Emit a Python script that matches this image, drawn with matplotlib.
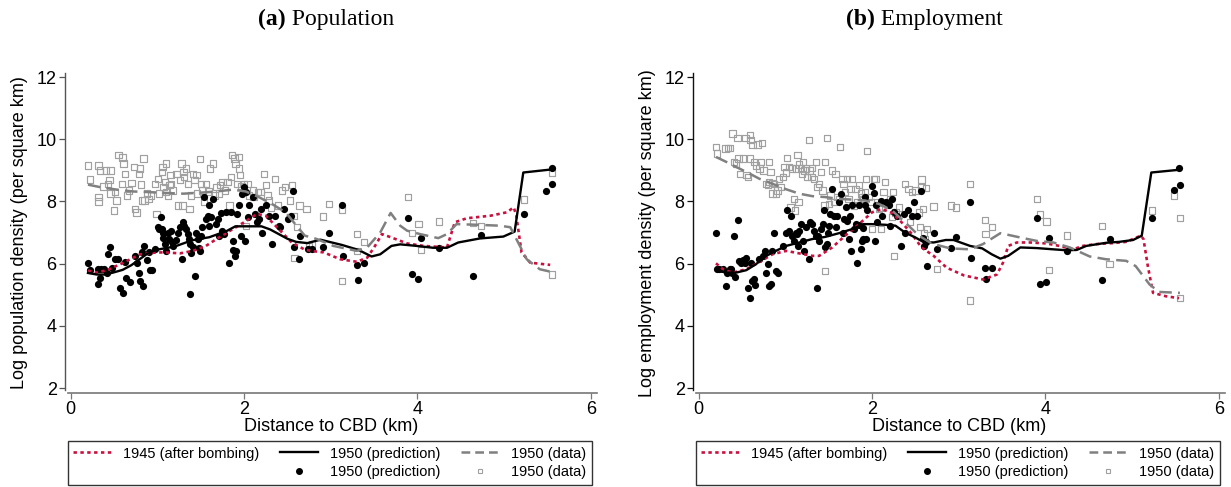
import matplotlib
matplotlib.use("Agg")
import matplotlib.pyplot as plt
from matplotlib.lines import Line2D
from matplotlib.offsetbox import TextArea, HPacker, AnchoredOffsetbox

plt.rcParams['font.family'] = ['Liberation Sans', 'DejaVu Sans']

# ---------------- data: (a) Population ----------------
pop_pred_pts = [
    (0.20, 6.03), (0.22, 5.79), (0.32, 5.84), (0.35, 5.84), (0.32, 5.33), (0.34, 5.55), (0.38, 5.82),
    (0.42, 5.71), (0.43, 6.30), (0.45, 6.52), (0.48, 5.87), (0.51, 6.14), (0.55, 6.16), (0.57, 5.22),
    (0.60, 5.06), (0.63, 6.05), (0.64, 5.55), (0.69, 5.41), (0.74, 6.25), (0.76, 6.01), (0.79, 5.71),
    (0.80, 5.44), (0.82, 6.36), (0.84, 5.28), (0.85, 6.57), (0.88, 6.11), (0.90, 6.36), (0.92, 5.79),
    (0.94, 5.79), (0.97, 6.46), (1.01, 7.17), (1.02, 7.11), (1.04, 7.49), (1.05, 7.11), (1.07, 7.00),
    (1.06, 6.84), (1.09, 6.63), (1.10, 6.41), (1.12, 7.00), (1.14, 6.79), (1.16, 7.06), (1.17, 6.68),
    (1.18, 6.57), (1.22, 6.77), (1.24, 7.00), (1.26, 7.17), (1.28, 6.16), (1.30, 7.33), (1.31, 7.22),
    (1.33, 7.11), (1.35, 6.95), (1.37, 6.79), (1.38, 6.63), (1.38, 5.01), (1.39, 6.33), (1.41, 6.52),
    (1.43, 5.60), (1.45, 7.00), (1.47, 6.79), (1.48, 6.49), (1.49, 6.41), (1.50, 6.90), (1.52, 7.17),
    (1.54, 8.14), (1.56, 7.44), (1.58, 7.54), (1.59, 7.22), (1.60, 7.87), (1.62, 7.49), (1.64, 8.08),
    (1.68, 7.27), (1.70, 7.44), (1.71, 6.90), (1.73, 7.63), (1.75, 7.06), (1.77, 6.95), (1.79, 7.65),
    (1.83, 6.01), (1.85, 7.65), (1.87, 6.73), (1.87, 6.44), (1.89, 6.25), (1.91, 6.41), (1.92, 7.60),
    (1.94, 7.87), (1.96, 6.90), (1.98, 8.25), (2.00, 8.46), (2.01, 6.73), (2.02, 8.30), (2.04, 7.49),
    (2.06, 7.87), (2.10, 8.14), (2.13, 7.60), (2.15, 7.33), (2.17, 7.44), (2.19, 7.76), (2.21, 7.00),
    (2.25, 7.87), (2.29, 7.54), (2.32, 6.63), (2.36, 7.54), (2.40, 7.22), (2.42, 7.17), (2.46, 7.76),
    (2.51, 7.44), (2.54, 7.54), (2.56, 8.35), (2.58, 6.52), (2.63, 6.14), (2.65, 6.90), (2.74, 6.46),
    (2.78, 6.46), (2.91, 6.52), (2.98, 7.00), (3.13, 7.89), (3.14, 6.25), (3.30, 5.95), (3.31, 5.47),
    (3.38, 6.03), (3.89, 7.46), (3.94, 5.68), (4.01, 5.49), (4.04, 6.84), (4.25, 6.49), (4.64, 5.60),
    (4.73, 6.92), (5.23, 7.60), (5.48, 8.35), (5.55, 9.06), (5.55, 8.57),
]
pop_data_pts = [
    (0.20, 9.16), (0.22, 8.70), (0.32, 9.16), (0.32, 8.14), (0.32, 8.00), (0.34, 9.00), (0.38, 8.48),
    (0.41, 9.00), (0.43, 8.57), (0.46, 9.00), (0.45, 8.68), (0.46, 8.25), (0.50, 7.71), (0.51, 8.30),
    (0.53, 8.03), (0.55, 9.49), (0.59, 8.57), (0.60, 9.41), (0.61, 9.22), (0.63, 8.89), (0.65, 8.19),
    (0.67, 8.35), (0.70, 8.60), (0.73, 9.11), (0.74, 7.76), (0.76, 7.65), (0.79, 8.89), (0.80, 9.06),
    (0.81, 8.54), (0.82, 8.03), (0.84, 9.38), (0.85, 8.03), (0.88, 8.25), (0.90, 8.08), (0.93, 8.19),
    (0.97, 8.57), (0.99, 7.60), (1.01, 8.73), (1.02, 8.25), (1.05, 8.95), (1.06, 9.11), (1.07, 8.46),
    (1.09, 8.62), (1.10, 8.30), (1.10, 9.22), (1.12, 8.19), (1.14, 8.52), (1.15, 8.84), (1.16, 8.57),
    (1.18, 8.35), (1.22, 8.89), (1.24, 7.87), (1.26, 8.68), (1.28, 9.22), (1.29, 7.87), (1.30, 8.95),
    (1.31, 8.79), (1.33, 9.06), (1.35, 8.57), (1.37, 7.76), (1.39, 8.19), (1.41, 8.89), (1.43, 8.68),
    (1.45, 8.84), (1.46, 8.25), (1.49, 9.36), (1.50, 8.57), (1.52, 8.35), (1.54, 7.98), (1.56, 8.57),
    (1.59, 8.32), (1.61, 9.06), (1.64, 9.22), (1.66, 8.19), (1.68, 8.46), (1.71, 8.25), (1.72, 8.52),
    (1.75, 8.62), (1.78, 8.35), (1.81, 8.62), (1.83, 7.87), (1.85, 8.79), (1.86, 9.49), (1.89, 9.38),
    (1.90, 9.22), (1.92, 8.57), (1.94, 9.06), (1.94, 9.43), (1.95, 8.84), (1.97, 8.49), (2.00, 8.57),
    (2.02, 7.22), (2.04, 8.57), (2.06, 8.19), (2.10, 8.35), (2.11, 8.14), (2.16, 8.30), (2.19, 8.30),
    (2.23, 8.89), (2.25, 8.52), (2.27, 8.19), (2.29, 8.03), (2.31, 7.81), (2.36, 8.73), (2.39, 7.87),
    (2.44, 8.35), (2.47, 8.46), (2.53, 8.03), (2.55, 8.52), (2.57, 7.54), (2.58, 6.19), (2.61, 7.17),
    (2.64, 7.87), (2.72, 7.76), (2.75, 6.57), (2.78, 6.63), (2.91, 7.51), (2.98, 7.91), (3.13, 7.74),
    (3.13, 5.44), (3.30, 6.95), (3.38, 6.70), (3.30, 6.41), (3.89, 8.15), (3.94, 6.98), (4.01, 7.27),
    (4.04, 6.44), (4.25, 7.35), (4.64, 7.30), (4.73, 7.22), (5.23, 8.06), (5.55, 8.93), (5.55, 5.65),
]
pop_1945_line = [
    (0.20, 5.78), (0.29, 5.71), (0.42, 5.79), (0.61, 6.03), (0.80, 6.30), (0.99, 6.36), (1.10, 6.36),
    (1.26, 6.33), (1.41, 6.41), (1.56, 6.57), (1.71, 6.84), (1.87, 7.11), (2.00, 7.33), (2.15, 7.60),
    (2.25, 7.54), (2.40, 7.11), (2.55, 6.68), (2.70, 6.45), (2.80, 6.40), (2.92, 6.36), (3.11, 6.14),
    (3.30, 6.06), (3.42, 6.19), (3.51, 6.57), (3.59, 6.95), (3.70, 6.84), (3.88, 6.65), (4.07, 6.57),
    (4.34, 6.52), (4.43, 7.33), (4.57, 7.46), (4.84, 7.54), (5.03, 7.65), (5.11, 7.81), (5.14, 7.54),
    (5.20, 6.36), (5.30, 6.03), (5.53, 5.96),
]
pop_1950_pred_line = [
    (0.20, 5.70), (0.30, 5.65), (0.40, 5.65), (0.50, 5.72), (0.60, 5.80), (0.70, 5.95), (0.80, 6.15),
    (0.90, 6.35), (1.00, 6.45), (1.10, 6.50), (1.20, 6.55), (1.30, 6.65), (1.40, 6.75), (1.50, 6.80),
    (1.60, 6.85), (1.70, 6.95), (1.80, 7.05), (1.90, 7.20), (2.00, 7.20), (2.10, 7.20), (2.20, 7.20),
    (2.30, 7.10), (2.40, 6.95), (2.50, 6.80), (2.60, 6.70), (2.73, 6.66), (2.88, 6.77), (3.13, 6.60),
    (3.32, 6.44), (3.47, 6.23), (3.57, 6.30), (3.70, 6.57), (3.80, 6.62), (3.99, 6.57), (4.18, 6.51),
    (4.34, 6.51), (4.47, 6.68), (4.72, 6.81), (4.99, 6.87), (5.12, 7.03), (5.22, 8.93), (5.55, 9.03),
]
pop_1950_data_line = [
    (0.20, 8.54), (0.34, 8.46), (0.53, 8.38), (0.72, 8.32), (0.91, 8.30), (1.10, 8.27), (1.30, 8.25),
    (1.49, 8.28), (1.68, 8.32), (1.87, 8.38), (2.02, 8.32), (2.17, 8.14), (2.32, 7.92), (2.48, 7.65),
    (2.59, 7.27), (2.70, 6.90), (2.84, 6.79), (3.03, 6.57), (3.30, 6.41), (3.42, 6.52), (3.57, 7.00),
    (3.69, 7.63), (3.80, 7.22), (3.88, 7.06), (4.03, 6.95), (4.24, 6.82), (4.34, 6.95), (4.45, 7.27),
    (4.68, 7.25), (4.95, 7.22), (5.07, 7.17), (5.14, 6.79), (5.26, 6.14), (5.41, 5.82), (5.55, 5.73),
]

# ---------------- data: (b) Employment ----------------
emp_pred_pts = [
    (0.20, 6.98), (0.21, 5.84), (0.24, 5.82), (0.28, 5.84), (0.32, 5.28), (0.33, 5.71), (0.36, 5.82),
    (0.37, 5.84), (0.39, 5.71), (0.41, 6.90), (0.42, 5.58), (0.45, 7.40), (0.46, 6.09), (0.49, 6.03),
    (0.51, 6.11), (0.53, 6.03), (0.55, 6.19), (0.57, 5.22), (0.59, 4.90), (0.60, 6.03), (0.62, 5.44),
    (0.64, 5.49), (0.65, 5.30), (0.70, 6.14), (0.74, 6.25), (0.76, 6.41), (0.78, 5.71), (0.80, 5.98),
    (0.81, 5.28), (0.83, 5.36), (0.85, 6.41), (0.87, 7.00), (0.89, 5.76), (0.91, 5.71), (0.97, 6.57),
    (1.01, 7.00), (1.02, 7.71), (1.04, 7.06), (1.06, 7.54), (1.08, 6.90), (1.10, 6.73), (1.12, 7.00),
    (1.14, 6.95), (1.15, 6.57), (1.16, 7.06), (1.18, 7.27), (1.20, 6.73), (1.22, 6.41), (1.24, 7.17),
    (1.27, 6.14), (1.29, 7.33), (1.31, 7.27), (1.33, 7.06), (1.35, 6.90), (1.37, 5.22), (1.38, 6.90),
    (1.39, 6.73), (1.41, 7.11), (1.43, 7.27), (1.45, 7.71), (1.46, 6.52), (1.48, 6.62), (1.49, 7.00),
    (1.50, 7.22), (1.52, 7.60), (1.54, 8.41), (1.56, 7.54), (1.58, 7.17), (1.60, 7.54), (1.62, 7.98),
    (1.64, 8.25), (1.66, 7.00), (1.68, 7.44), (1.70, 7.81), (1.71, 7.38), (1.73, 6.79), (1.75, 7.54),
    (1.76, 6.41), (1.77, 7.87), (1.79, 7.11), (1.81, 7.27), (1.83, 6.01), (1.85, 7.87), (1.85, 7.25),
    (1.87, 6.46), (1.88, 6.73), (1.89, 7.13), (1.90, 6.79), (1.92, 7.87), (1.92, 8.14), (1.93, 6.79),
    (1.94, 7.71), (2.00, 8.49), (2.02, 8.27), (2.03, 6.73), (2.04, 7.87), (2.06, 7.33), (2.10, 8.03),
    (2.12, 7.54), (2.16, 7.98), (2.19, 7.87), (2.21, 7.22), (2.23, 8.08), (2.25, 7.65), (2.29, 7.54),
    (2.33, 6.57), (2.37, 7.60), (2.38, 7.00), (2.42, 7.71), (2.46, 7.54), (2.48, 7.98), (2.52, 7.54),
    (2.57, 8.32), (2.59, 6.84), (2.60, 6.57), (2.63, 5.92), (2.71, 7.00), (2.75, 6.46), (2.62, 6.68),
    (2.91, 6.49), (2.97, 6.86), (3.13, 7.98), (3.14, 6.19), (3.30, 5.87), (3.31, 5.49), (3.38, 5.85),
    (3.90, 7.47), (3.94, 5.33), (4.01, 5.41), (4.04, 6.81), (4.25, 6.41), (4.65, 5.47), (4.74, 6.79),
    (5.23, 7.46), (5.48, 8.38), (5.54, 9.06), (5.55, 8.54),
]
emp_data_pts = [
    (0.20, 9.76), (0.21, 9.54), (0.31, 9.70), (0.34, 9.72), (0.36, 9.72), (0.39, 10.19), (0.41, 9.27),
    (0.43, 9.22), (0.45, 10.05), (0.46, 9.38), (0.48, 8.89), (0.51, 9.38), (0.54, 10.03), (0.55, 8.84),
    (0.57, 8.79), (0.59, 10.14), (0.59, 9.38), (0.60, 9.97), (0.62, 9.81), (0.64, 9.27), (0.66, 9.16),
    (0.68, 9.83), (0.70, 9.06), (0.72, 9.27), (0.73, 9.87), (0.75, 9.00), (0.78, 8.57), (0.80, 8.52),
    (0.81, 8.62), (0.81, 9.27), (0.83, 8.95), (0.85, 8.25), (0.85, 8.60), (0.87, 8.57), (0.89, 8.25),
    (0.91, 8.35), (0.93, 8.73), (0.95, 8.46), (0.97, 8.79), (0.99, 9.11), (1.01, 8.93), (1.02, 9.40),
    (1.04, 9.11), (1.06, 7.81), (1.08, 9.06), (1.10, 8.08), (1.11, 7.71), (1.12, 9.06), (1.14, 9.49),
    (1.15, 7.98), (1.16, 9.19), (1.18, 9.06), (1.19, 8.89), (1.20, 9.27), (1.22, 9.00), (1.24, 9.06),
    (1.25, 8.79), (1.27, 9.97), (1.28, 9.00), (1.30, 8.79), (1.31, 9.08), (1.33, 8.73), (1.35, 9.27),
    (1.37, 8.46), (1.39, 8.57), (1.41, 8.95), (1.43, 8.35), (1.45, 7.87), (1.46, 5.76), (1.46, 9.27),
    (1.48, 10.05), (1.50, 7.92), (1.52, 8.19), (1.54, 9.00), (1.56, 7.98), (1.58, 8.89), (1.60, 8.14),
    (1.62, 8.08), (1.63, 9.76), (1.66, 8.73), (1.67, 8.57), (1.69, 8.30), (1.71, 8.73), (1.73, 8.08),
    (1.75, 8.41), (1.77, 8.73), (1.79, 7.87), (1.81, 8.41), (1.83, 7.98), (1.85, 8.52), (1.87, 8.25),
    (1.89, 8.14), (1.90, 8.08), (1.92, 8.30), (1.93, 8.73), (1.94, 9.62), (1.96, 8.14), (1.98, 7.98),
    (2.00, 7.11), (2.02, 8.73), (2.04, 8.73), (2.06, 7.98), (2.08, 7.76), (2.10, 7.11), (2.11, 7.81),
    (2.13, 8.30), (2.15, 8.62), (2.19, 7.98), (2.21, 8.08), (2.23, 7.49), (2.24, 8.30), (2.25, 6.25),
    (2.27, 7.65), (2.31, 7.81), (2.38, 8.57), (2.42, 8.41), (2.44, 7.33), (2.46, 8.30), (2.50, 8.35),
    (2.54, 7.65), (2.55, 7.17), (2.57, 8.71), (2.57, 8.46), (2.59, 7.76), (2.61, 6.79), (2.63, 7.11),
    (2.71, 7.84), (2.75, 5.82), (2.62, 8.43), (2.60, 6.98), (2.91, 7.87), (2.97, 7.81), (3.13, 8.57),
    (3.13, 4.82), (3.30, 7.41), (3.31, 6.95), (3.38, 7.17), (3.90, 8.08), (3.94, 7.58), (4.01, 7.36),
    (4.04, 5.79), (4.25, 6.90), (4.65, 7.22), (4.74, 5.98), (5.23, 7.71), (5.48, 8.19), (5.55, 7.46),
    (5.55, 4.90),
]
emp_1945_line = [
    (0.20, 6.01), (0.28, 5.82), (0.39, 5.71), (0.55, 5.82), (0.70, 6.05), (0.85, 6.30), (1.01, 6.41),
    (1.16, 6.33), (1.31, 6.25), (1.39, 6.25), (1.54, 6.52), (1.69, 6.90), (1.85, 7.27), (2.00, 7.65),
    (2.11, 7.76), (2.23, 7.63), (2.34, 7.33), (2.46, 6.95), (2.57, 6.52), (2.71, 6.25), (2.86, 5.87),
    (3.06, 5.62), (3.28, 5.49), (3.44, 5.65), (3.51, 6.03), (3.57, 6.57), (3.67, 6.68), (3.82, 6.68),
    (4.01, 6.65), (4.16, 6.57), (4.32, 6.46), (4.43, 6.57), (4.59, 6.63), (4.78, 6.66), (4.93, 6.70),
    (5.10, 6.90), (5.13, 6.79), (5.18, 5.92), (5.24, 5.06), (5.39, 4.95), (5.54, 4.89),
]
emp_1950_pred_line = [
    (0.20, 5.79), (0.32, 5.71), (0.43, 5.71), (0.55, 5.79), (0.66, 5.98), (0.78, 6.25), (0.89, 6.41),
    (1.01, 6.57), (1.16, 6.68), (1.31, 6.79), (1.46, 6.86), (1.62, 6.98), (1.77, 7.11), (1.90, 7.27),
    (2.00, 7.27), (2.15, 7.25), (2.27, 7.22), (2.38, 7.00), (2.50, 6.84), (2.59, 6.70), (2.71, 6.68),
    (2.85, 6.76), (2.94, 6.76), (3.13, 6.57), (3.27, 6.49), (3.38, 6.30), (3.48, 6.16), (3.57, 6.25),
    (3.71, 6.52), (3.90, 6.50), (4.09, 6.46), (4.24, 6.43), (4.36, 6.44), (4.47, 6.57), (4.70, 6.67),
    (4.85, 6.70), (5.01, 6.76), (5.11, 6.90), (5.22, 8.93), (5.55, 9.02),
]
emp_1950_data_line = [
    (0.20, 9.43), (0.32, 9.27), (0.43, 9.11), (0.55, 8.95), (0.70, 8.73), (0.85, 8.57), (1.01, 8.39),
    (1.16, 8.25), (1.31, 8.17), (1.46, 8.14), (1.62, 8.08), (1.77, 8.06), (1.92, 8.03), (2.08, 7.92),
    (2.23, 7.71), (2.38, 7.33), (2.54, 6.90), (2.67, 6.68), (2.71, 6.63), (2.90, 6.49), (3.13, 6.46),
    (3.28, 6.63), (3.48, 6.98), (3.71, 6.84), (3.90, 6.73), (4.09, 6.68), (4.28, 6.52), (4.51, 6.23),
    (4.70, 6.14), (4.93, 6.09), (5.04, 5.92), (5.20, 5.33), (5.31, 5.09), (5.55, 5.06),
]

titles = [("(a)", "Population"), ("(b)", "Employment")]
ylabels = ["Log population density (per square km)", "Log employment density (per square km)"]
xlabel = "Distance to CBD (km)"
xticks = [0, 2, 4, 6]
yticks = [2, 4, 6, 8, 10, 12]
legend_labels = ["1945 (after bombing)", "1950 (prediction)", "1950 (data)",
                 "1950 (prediction)", "1950 (data)"]

RED = "#C9103F"
GRAY_LINE = "#808080"
GRAY_SQ = "#A0A0A0"

W, H = 1231, 487
fig = plt.figure(figsize=(W / 100, H / 100), dpi=100)

panels = [
    (pop_pred_pts, pop_data_pts, pop_1945_line, pop_1950_pred_line, pop_1950_data_line),
    (emp_pred_pts, emp_data_pts, emp_1945_line, emp_1950_pred_line, emp_1950_data_line),
]
ax_left_px = [65, 693]
ax_right_px = [597, 1225]
title_cx = [326, 924]
yspine_colors = ["#555555", "#111111"]


def unzip(pts):
    return [p[0] for p in pts], [p[1] for p in pts]


for i, (pred, data, l45, l50p, l50d) in enumerate(panels):
    x0 = ax_left_px[i] / W
    wdt = (ax_right_px[i] - ax_left_px[i]) / W
    top = 73
    bot = 393
    ax = fig.add_axes([x0, 1 - bot / H, wdt, (bot - top) / H])
    ax.set_xlim(-0.065, 6.07)
    ax.set_ylim(1.84, 12.13)

    dx, dy = unzip(data)
    ax.scatter(dx, dy, marker='s', s=21, facecolors='none', edgecolors=GRAY_SQ,
               linewidths=0.85, zorder=2)
    px, py = unzip(pred)
    ax.scatter(px, py, marker='o', s=27, color='black', linewidths=0, zorder=3)

    x45, y45 = unzip(l45)
    ax.plot(x45, y45, color=RED, lw=1.9, dashes=(1.3, 1.3), zorder=4)
    xp, yp = unzip(l50p)
    ax.plot(xp, yp, color='black', lw=1.7, zorder=4)
    xd, yd = unzip(l50d)
    ax.plot(xd, yd, color=GRAY_LINE, lw=1.8, dashes=(5, 2.5), zorder=4)

    for s in ['top', 'right']:
        ax.spines[s].set_visible(False)
    ax.spines['left'].set_bounds(1.95, 12.13)
    ax.spines['left'].set_color(yspine_colors[i])
    ax.spines['left'].set_linewidth(1.0)
    ax.spines['bottom'].set_bounds(-0.03, 6.07)
    ax.spines['bottom'].set_color("#777777")
    ax.spines['bottom'].set_linewidth(1.2)

    ax.set_xticks(xticks)
    ax.set_yticks(yticks)
    ax.tick_params(axis='both', direction='out', length=4, width=0.9, labelsize=13,
                   colors='black', pad=2)
    ax.tick_params(axis='y', color=yspine_colors[i])
    ax.tick_params(axis='x', color="#777777")
    ax.set_xlabel(xlabel, fontsize=13, labelpad=0)
    ax.set_ylabel(ylabels[i], fontsize=13, labelpad=6)

    # legend
    h_red = Line2D([], [], color=RED, lw=1.9, dashes=(1.3, 1.3))
    h_blank = Line2D([], [], color='none')
    h_solid = Line2D([], [], color='black', lw=1.7)
    h_dot = Line2D([], [], marker='o', color='black', ls='none', markersize=4)
    h_dash = Line2D([], [], color=GRAY_LINE, lw=1.8, dashes=(3.5, 2))
    h_sq = Line2D([], [], marker='s', ls='none', markerfacecolor='none',
                  markeredgecolor=GRAY_SQ, markersize=3.5, markeredgewidth=0.8)
    handles = [h_red, h_blank, h_solid, h_dot, h_dash, h_sq]
    labels = [legend_labels[0], "", legend_labels[1], legend_labels[3],
              legend_labels[2], legend_labels[4]]
    leg = ax.legend(handles, labels, ncol=3, loc='upper left',
                    bbox_to_anchor=(0.005, -0.159, 0.985, 0.01), mode='expand',
                    borderaxespad=0, fontsize=10.5, frameon=True, fancybox=False,
                    handlelength=2.6, handletextpad=0.8, columnspacing=1.0,
                    labelspacing=0.3, borderpad=0.4)
    leg.get_frame().set_edgecolor('black')
    leg.get_frame().set_linewidth(1.0)

    # title with bold panel letter
    ta1 = TextArea(titles[i][0], textprops=dict(fontsize=17, fontweight='bold',
                                                 family='Liberation Serif'))
    ta2 = TextArea(" " + titles[i][1], textprops=dict(fontsize=17,
                                                       family='Liberation Serif'))
    box = HPacker(children=[ta1, ta2], align='baseline', pad=0, sep=0)
    anc = AnchoredOffsetbox(loc='center', child=box, pad=0, frameon=False,
                            bbox_to_anchor=(title_cx[i] / W, 1 - 19 / H),
                            bbox_transform=fig.transFigure, borderpad=0)
    fig.add_artist(anc)

fig.savefig("out.png", dpi=100)
